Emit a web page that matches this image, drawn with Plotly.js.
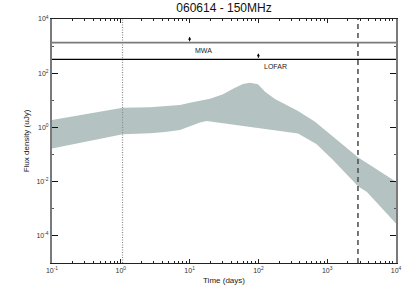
<!DOCTYPE html>
<html><head><meta charset="utf-8">
<script src="https://cdn.plot.ly/plotly-3.0.1.min.js"></script>
<style>html,body{margin:0;padding:0;background:#fff}#chart{width:414px;height:297px}</style>
</head><body><div id="chart"></div>
<script>
// Band (range of model light curves), time in days, flux density in uJy
var bandTimeUpper = [0.1, 1.067, 2.65, 7.24, 10.1, 19.8, 30.6, 42.8, 59.7, 75.5, 98.6, 125, 174, 244, 377, 665, 1215, 2830, 10000];
var bandFluxUpper = [1.875, 5.33, 5.52, 6.71, 8.15, 11.5, 16.6, 26.8, 39.9, 44.6, 38.9, 20.7, 11.2, 7.12, 4.03, 1.62, 0.454, 0.0775, 0.0099];
var bandTimeLower = [0.1, 1.067, 2.65, 4.39, 7.24, 11.2, 14.2, 17.7, 42.8, 105, 377, 703, 1215, 2830, 3784, 10000];
var bandFluxLower = [0.169, 0.556, 0.605, 0.676, 0.80, 1.23, 1.52, 1.72, 1.23, 0.927, 0.596, 0.238, 0.0627, 0.00659, 0.00413, 0.000289];

// Telescope sensitivity limits
var telescopes = ["MWA", "LOFAR"];
var limitFlux = [1334, 326];
var arrowTimes = [10, 100];
var limitColors = ["#7a7a7a", "#000000"];

// Vertical reference times
var dottedTime = 1.06;
var dashedTime = 2800;

// Axis ticks
var xTickVals = [0.1, 1, 10, 100, 1000, 10000];
var xTickText = ["10<sup>-1</sup>", "10<sup>0</sup>", "10<sup>1</sup>", "10<sup>2</sup>", "10<sup>3</sup>", "10<sup>4</sup>"];
var yTickVals = [1e4, 1e2, 1, 1e-2, 1e-4];
var yTickText = ["10<sup>4</sup>", "10<sup>2</sup>", "10<sup>0</sup>", "10<sup>-2</sup>", "10<sup>-4</sup>"];
var yMinorVals = [1e3, 10, 0.1, 1e-3];

var xMinor = [];
for (var d = -1; d < 4; d++) for (var k = 2; k <= 9; k++) xMinor.push(k * Math.pow(10, d));

var xRange = [0.1, 10000], yRange = [1e-5, 1e4];

var traces = [];
traces.push({
  x: bandTimeUpper.concat(bandTimeLower.slice().reverse()),
  y: bandFluxUpper.concat(bandFluxLower.slice().reverse()),
  type: "scatter", mode: "lines", fill: "toself",
  fillcolor: "#b4c2c2", line: {width: 0, color: "#b4c2c2"}, hoverinfo: "skip"
});
traces.push({x: [dottedTime, dottedTime], y: yRange, type: "scatter", mode: "lines",
  line: {color: "#8a8a8a", width: 1.2, dash: "1px,1.5px"}});
traces.push({x: [dashedTime, dashedTime], y: yRange, type: "scatter", mode: "lines",
  line: {color: "#555555", width: 1.6, dash: "5px,4px"}});
for (var i = 0; i < telescopes.length; i++) {
  traces.push({x: xRange, y: [limitFlux[i], limitFlux[i]], type: "scatter", mode: "lines",
    line: {color: limitColors[i], width: i === 0 ? 1.8 : 1.2}});
}

var annotations = [];
for (var i = 0; i < telescopes.length; i++) {
  var ly = Math.log10(limitFlux[i]);
  annotations.push({x: Math.log10(arrowTimes[i]), y: ly + 0.22, xref: "x", yref: "y",
    text: "", showarrow: true, arrowhead: 2, arrowsize: 0.6, arrowwidth: 1,
    arrowcolor: "#000", ax: 0, ay: 6});
  annotations.push({x: Math.log10(arrowTimes[i] * 1.12), y: ly - 0.27, xref: "x", yref: "y",
    text: telescopes[i], showarrow: false, xanchor: "left", yanchor: "middle",
    font: {family: "Liberation Sans, Arial", size: 7, color: "#222"}});
}

var layout = {
  width: 414, height: 297,
  margin: {l: 52, r: 18, t: 19, b: 34},
  paper_bgcolor: "#fff", plot_bgcolor: "#fff",
  showlegend: false,
  title: {text: "060614 - 150MHz", xref: "paper", x: 0.5, xanchor: "center", yref: "container", y: 0.988, yanchor: "top",
    font: {family: "Liberation Sans, Arial", size: 12, color: "#111"}},
  xaxis: {type: "log", range: [-1, 4], showgrid: false, zeroline: false,
    showline: true, linecolor: "#222", linewidth: 1.2, mirror: "ticks",
    ticks: "inside", ticklen: 4, tickcolor: "#222", tickwidth: 1,
    tickvals: xTickVals, ticktext: xTickText,
    tickfont: {family: "Liberation Sans, Arial", size: 7, color: "#333"},
    minor: {tickvals: xMinor, ticks: "inside", ticklen: 2, tickcolor: "#222", showgrid: false},
    title: {text: "Time (days)", standoff: 4, font: {family: "Liberation Sans, Arial", size: 8, color: "#222"}}},
  yaxis: {type: "log", range: [-5, 4], showgrid: false, zeroline: false,
    showline: true, linecolor: "#7a7a7a", linewidth: 2, mirror: "ticks",
    ticks: "inside", ticklen: 6, tickcolor: "#111", tickwidth: 1.2,
    tickvals: yTickVals, ticktext: yTickText,
    tickfont: {family: "Liberation Sans, Arial", size: 7, color: "#333"},
    minor: {tickvals: yMinorVals, ticks: "inside", ticklen: 2, tickcolor: "#555", showgrid: false},
    title: {text: "Flux density (uJy)", standoff: 6, font: {family: "Liberation Sans, Arial", size: 8, color: "#222"}}},
  annotations: annotations
};

Plotly.newPlot("chart", traces, layout, {staticPlot: true, displayModeBar: false});
</script>
</body></html>
